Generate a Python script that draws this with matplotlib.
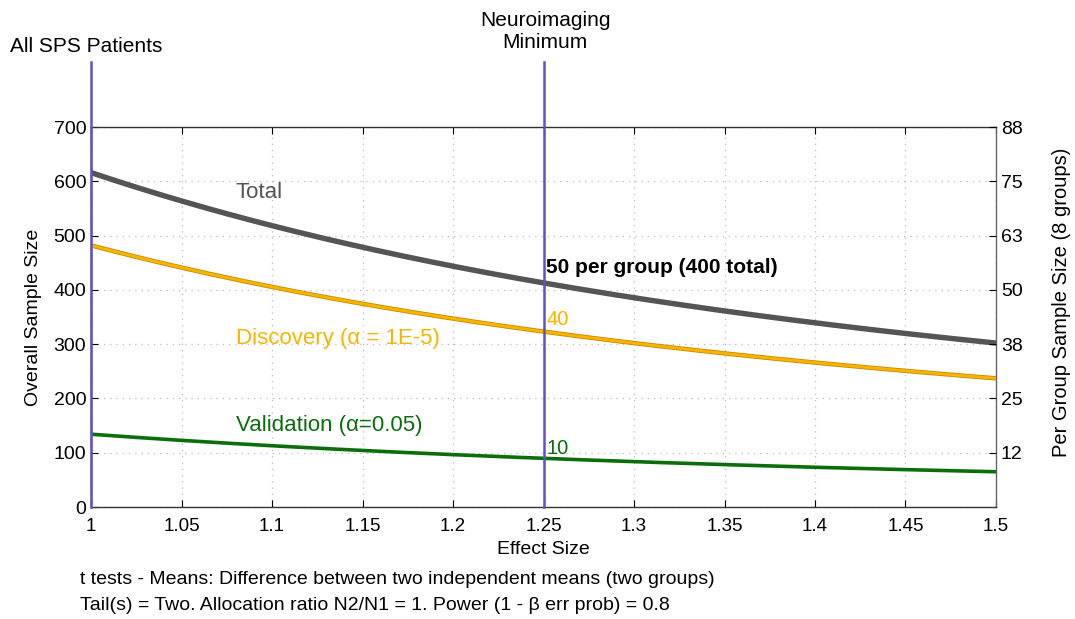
import matplotlib
matplotlib.use("Agg")
import matplotlib.pyplot as plt
import numpy as np

plt.rcParams['font.family'] = ['Liberation Sans', 'DejaVu Sans']

# values
effect_size = [1.0, 1.05, 1.1, 1.15, 1.2, 1.25, 1.3, 1.35, 1.4, 1.45, 1.5]
discovery = [482, 441, 405, 375, 347, 323, 302, 283, 266, 251, 237]
validation = [134, 123, 113, 104, 96, 90, 84, 78, 73, 69, 65]
total = [d + v for d, v in zip(discovery, validation)]

left_ticks = [0, 100, 200, 300, 400, 500, 600, 700]
right_ticks = [12.5, 25, 37.5, 50, 62.5, 75, 87.5]
right_labels = ['12', '25', '38', '50', '63', '75', '88']
x_ticks = [1, 1.05, 1.1, 1.15, 1.2, 1.25, 1.3, 1.35, 1.4, 1.45, 1.5]
x_labels = ['1', '1.05', '1.1', '1.15', '1.2', '1.25', '1.3', '1.35', '1.4', '1.45', '1.5']

gray = '#555555'
orange = '#f7b500'
green = '#0b6e0b'
purple = '#6050c8'

fig = plt.figure(figsize=(10.75, 6.19), dpi=100, facecolor='white')
ax = fig.add_axes([0.0847, 0.1809, 0.8418, 0.6139])

# smooth curves through the read points
xs = np.linspace(1, 1.5, 200)
def smooth(vals):
    c = np.polyfit(effect_size, vals, 4)
    return np.polyval(c, xs)

ax.plot(xs, smooth(total), color=gray, lw=3.9, solid_capstyle='butt', zorder=3)
ax.plot(xs, smooth(discovery), color='#c98a00', lw=3.2, solid_capstyle='butt', zorder=3)
ax.plot(xs, smooth(discovery), color=orange, lw=2.0, solid_capstyle='butt', zorder=3)
ax.plot(xs, smooth(validation), color=green, lw=2.6, solid_capstyle='butt', zorder=3)

# reference lines
for xv in [1.0, 1.25]:
    ax.plot([xv, xv], [0, 820], color=purple, lw=1.8, clip_on=False, zorder=4)

ax.set_xlim(1, 1.5)
ax.set_ylim(0, 700)
ax.set_xticks(x_ticks)
ax.set_xticklabels(x_labels)
ax.set_yticks(left_ticks)
ax.grid(True, color='#bbbbbb', linestyle=(0, (1, 4)), lw=0.9)
ax.tick_params(direction='in', length=5, labelsize=14, top=True, width=0.8)
ax.tick_params(axis='x', pad=8, labelsize=13.5)
for s in ax.spines.values():
    s.set_color('#333333')
    s.set_linewidth(1.0)
ax.spines['right'].set_color('#666666')

ax.set_xlabel('Effect Size', fontsize=14, labelpad=4)
ax.set_ylabel('Overall Sample Size', fontsize=14, labelpad=8)

ax2 = ax.twinx()
ax2.set_ylim(0, 87.5)
ax2.set_yticks(right_ticks)
ax2.set_yticklabels(right_labels)
ax2.tick_params(direction='in', length=5, labelsize=14, width=0.8)
ax2.set_ylabel('Per Group Sample Size (8 groups)', fontsize=14.5)
ax2.yaxis.set_label_coords(1.062, 0.54)
for s in ax2.spines.values():
    s.set_visible(False)

# curve labels
ax.text(1.08, 580, 'Total', color=gray, fontsize=16, va='center')
ax.text(1.08, 311, 'Discovery (\u03b1 = 1E-5)', color=orange, fontsize=16, va='center')
ax.text(1.08, 151, 'Validation (\u03b1=0.05)', color=green, fontsize=16, va='center')
ax.text(1.2515, 442, '50 per group (400 total)', color='black', fontsize=15,
        fontweight='bold', va='center')
ax.text(1.2515, 346, '40', color=orange, fontsize=14.5, va='center')
ax.text(1.2515, 108, '10', color=green, fontsize=14.5, va='center')

fig.text(10 / 1075, 1 - 47 / 619, 'All SPS Patients', fontsize=15, va='center', ha='left')
fig.text(545 / 1075, 1 - 32 / 619, 'Neuroimaging\nMinimum', fontsize=15,
         va='center', ha='center', linespacing=1.2)

fig.text(80 / 1075, 1 - 580 / 619,
         't tests - Means: Difference between two independent means (two groups)',
         fontsize=14, va='center', ha='left')
fig.text(80 / 1075, 1 - 606 / 619,
         'Tail(s) = Two. Allocation ratio N2/N1 = 1. Power (1 - \u03b2 err prob) = 0.8',
         fontsize=14, va='center', ha='left')

fig.savefig('out.png', dpi=100, facecolor='white')
